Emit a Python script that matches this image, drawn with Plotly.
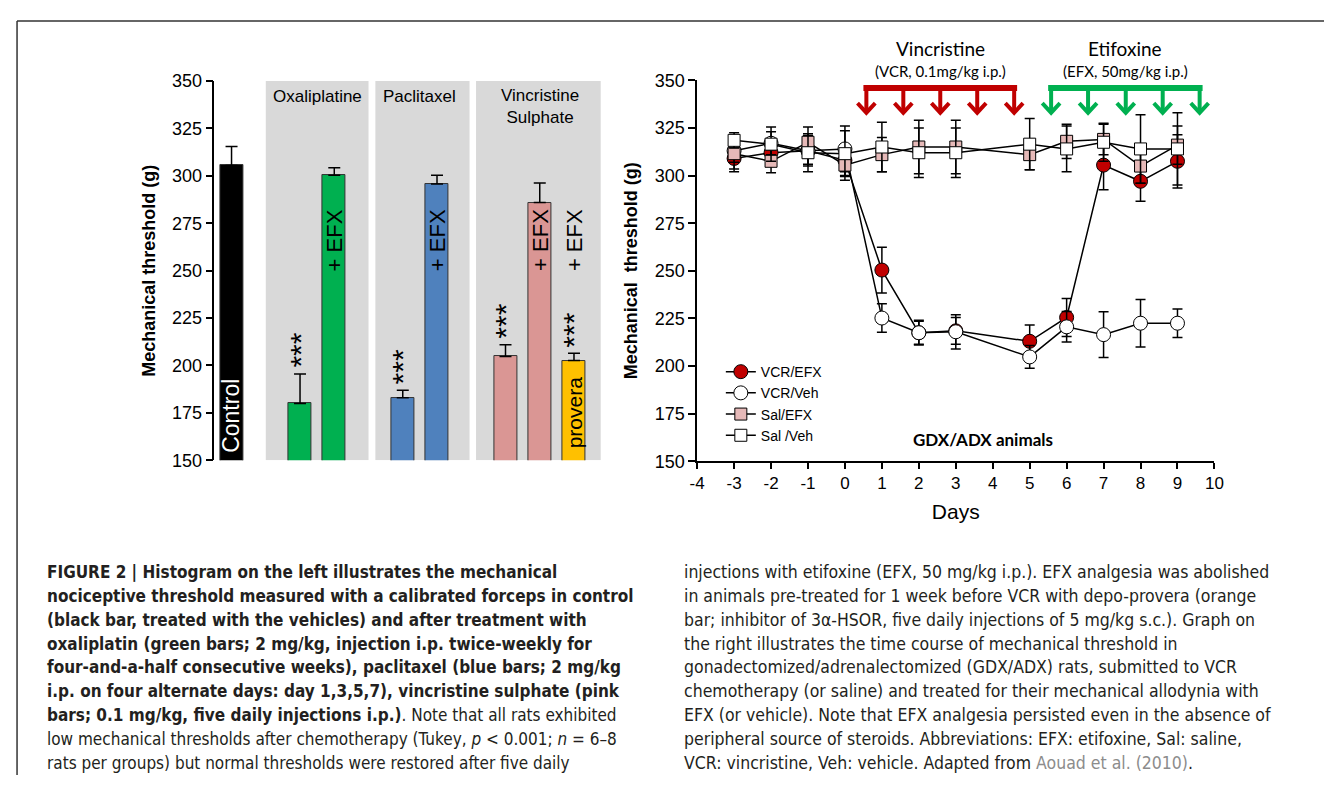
import plotly.graph_objects as go

# page is 1341x793; the page body keeps an 8px margin, so the figure is 1325x777
OFF = 8
W, H = 1341 - 2 * OFF, 793 - 2 * OFF

def px(x):
    return (x - OFF) / W

def py(y):
    return 1 - (y - OFF) / H

# ---------------- Left histogram data ----------------
bar_labels = ["Control", "Oxaliplatine", "Oxaliplatine + EFX", "Paclitaxel", "Paclitaxel + EFX",
              "Vincristine", "Vincristine + EFX", "Vincristine + provera + EFX"]
bar_pos = [0.5, 2.5, 3.5, 5.5, 6.5, 8.5, 9.5, 10.5]
bar_values = [305.5, 180, 300.3, 183, 295.7, 204.8, 285.9, 202.6]
bar_errors = [10, 15.5, 4, 4, 4.6, 6.2, 10.3, 3.9]
bar_colors = ["#000000", "#00B050", "#00B050", "#4F81BD", "#4F81BD", "#DA9694", "#DA9694", "#FFC000"]
group_names = ["Oxaliplatine", "Paclitaxel", "Vincristine<br>Sulphate"]
group_members = [[1, 2], [3, 4], [5, 6, 7]]

# ---------------- Right time-course data ----------------
days = [-3, -2, -1, 0, 1, 2, 3, 5, 6, 7, 8, 9]
vcr_efx = [309, 312, 313, 308, 250.4, 217.5, 218.5, 213, 225.5, 305.5, 297, 307.5]
vcr_efx_err = [7, 7, 8, 8, 12, 6, 7, 8.5, 10, 13, 10.5, 14]
vcr_veh = [313, 317, 313, 314, 225.2, 217.5, 218, 204.8, 220.6, 216.5, 222.5, 222.5]
vcr_veh_err = [6, 6, 7, 12, 7.5, 6.5, 9, 6, 8, 12, 12.5, 7.5]
sal_efx = [311.5, 307.5, 317.5, 305.5, 311, 315, 315, 311, 318, 319, 305, 316]
sal_efx_err = [8, 6, 8, 8, 9, 14, 14, 8, 9, 8, 9, 10]
sal_veh = [318.5, 316.5, 312, 311.5, 315, 312, 312, 316.5, 314, 317.5, 314, 314]
sal_veh_err = [4, 9, 10, 12, 13, 13, 13, 13.5, 12, 10, 18, 19]

day_ticks = list(range(-4, 11))

vcr_injections = [0.58, 1.58, 2.58, 3.58, 4.58]
efx_injections = [5.58, 6.58, 7.6, 8.6, 9.6]

ARIAL = "Liberation Sans, Arial, sans-serif"
CALIBRI = "Lato, Open Sans, sans-serif"
CAP = "Liberation Sans Narrow, DejaVu Sans Condensed, Liberation Sans, sans-serif"

fig = go.Figure()

# Left bars
fig.add_trace(go.Bar(
    x=bar_pos, y=bar_values, width=0.67,
    marker=dict(color=bar_colors, line=dict(color="#333333", width=1)),
    error_y=dict(type="data", symmetric=False, array=bar_errors, arrayminus=[0] * len(bar_errors),
                 color="#000000", thickness=1.5, width=6),
    xaxis="x", yaxis="y", showlegend=False, hovertext=bar_labels,
))

shapes = []
annotations = []

def note(**kw):
    kw.setdefault("showarrow", False)
    kw.setdefault("xanchor", "center")
    kw.setdefault("yanchor", "middle")
    annotations.append(kw)

# grey panels behind bar groups
pads = [(1.0, 1.0), (0.8, 0.95), (0.86, 0.78)]
for members, (pl, pr) in zip(group_members, pads):
    x0 = bar_pos[members[0]] - pl
    x1 = bar_pos[members[-1]] + pr
    shapes.append(dict(type="rect", xref="x", yref="y", x0=x0, x1=x1, y0=150, y1=350,
                       fillcolor="#D9D9D9", line=dict(width=0), layer="below"))

group_label_y = [89, 89, 99]
for members, name, gy in zip(group_members, group_names, group_label_y):
    cx = (bar_pos[members[0]] + bar_pos[members[-1]]) / 2
    note(x=cx, xref="x", y=py(gy), yref="paper", text=name,
         font=dict(family=ARIAL, size=17, color="#000"))

# texts inside / above bars
note(x=bar_pos[0], xref="x", y=150, yref="y", text="Control", textangle=-90,
     yanchor="bottom", yshift=5, font=dict(family=ARIAL, size=23, color="#FFFFFF"))
for i in [2, 4, 6, 7]:
    note(x=bar_pos[i], xref="x", y=py(236), yref="paper", text="+ EFX", textangle=-90,
         font=dict(family=ARIAL, size=22, color="#000"))
note(x=bar_pos[7], xref="x", y=150, yref="y", text="provera", textangle=-90,
     yanchor="bottom", yshift=10, font=dict(family=ARIAL, size=21, color="#000"))
for i in [1, 3, 5, 7]:
    note(x=bar_pos[i], xref="x", y=bar_values[i] + bar_errors[i], yref="y",
         text="***", textangle=-90, yanchor="bottom", yshift=4,
         font=dict(family=ARIAL, size=30, color="#000"))

# ---------------- Right lines ----------------
def add_series(name, yv, err, symbol, fill, size):
    fig.add_trace(go.Scatter(
        x=days, y=yv, name=name, mode="lines+markers",
        line=dict(color="#000000", width=1.5),
        marker=dict(symbol=symbol, size=size, color=fill, line=dict(color="#000000", width=1)),
        error_y=dict(type="data", array=err, color="#000000", thickness=1.5, width=5),
        xaxis="x2", yaxis="y2", cliponaxis=False,
    ))

add_series("VCR/EFX", vcr_efx, vcr_efx_err, "circle", "#C00000", 14)
add_series("VCR/Veh", vcr_veh, vcr_veh_err, "circle", "#FFFFFF", 14)
add_series("Sal/EFX", sal_efx, sal_efx_err, "square", "#E6B9B8", 12)
add_series("Sal /Veh", sal_veh, sal_veh_err, "square", "#FFFFFF", 12)

# injection arrows
def arrows(positions, color, bar_y=346, tip_y=333, head_w=0.24, head_h=5):
    shapes.append(dict(type="line", xref="x2", yref="y2", x0=positions[0] - 0.08, x1=positions[-1] + 0.08,
                       y0=bar_y, y1=bar_y, line=dict(color=color, width=6)))
    for p in positions:
        shapes.append(dict(type="line", xref="x2", yref="y2", x0=p, x1=p, y0=bar_y, y1=tip_y + 1,
                           line=dict(color=color, width=4)))
        shapes.append(dict(type="path", xref="x2", yref="y2",
                           path=f"M {p - head_w},{tip_y + head_h} L {p},{tip_y} L {p + head_w},{tip_y + head_h}",
                           line=dict(color=color, width=4)))

arrows(vcr_injections, "#C00000")
arrows(efx_injections, "#00B050")

cx_v = (vcr_injections[0] + vcr_injections[-1]) / 2
cx_e = (efx_injections[0] + efx_injections[-1]) / 2
note(x=cx_v, xref="x2", y=py(39), yref="paper", text="Vincristine",
     font=dict(family=CALIBRI, size=19, color="#000"))
note(x=cx_v, xref="x2", y=py(62), yref="paper", text="(VCR, 0.1mg/kg i.p.)",
     font=dict(family=CALIBRI, size=15, color="#000"))
note(x=cx_e, xref="x2", y=py(39), yref="paper", text="Etifoxine",
     font=dict(family=CALIBRI, size=19, color="#000"))
note(x=cx_e, xref="x2", y=py(62), yref="paper", text="(EFX, 50mg/kg i.p.)",
     font=dict(family=CALIBRI, size=15, color="#000"))
note(x=px(988), y=py(441), xref="paper", yref="paper", text="<b>GDX/ADX animals</b>",
     font=dict(family=CALIBRI, size=17, color="#000"))

# ---------------- Caption ----------------
left_lines = [
    "<b>FIGURE 2 | Histogram on the left illustrates the mechanical</b>",
    "<b>nociceptive threshold measured with a calibrated forceps in control</b>",
    "<b>(black bar, treated with the vehicles) and after treatment with</b>",
    "<b>oxaliplatin (green bars; 2 mg/kg, injection i.p. twice-weekly for</b>",
    "<b>four-and-a-half consecutive weeks), paclitaxel (blue bars; 2 mg/kg</b>",
    "<b>i.p. on four alternate days: day 1,3,5,7), vincristine sulphate (pink</b>",
    "<b>bars; 0.1 mg/kg, five daily injections i.p.)</b>. Note that all rats exhibited",
    "low mechanical thresholds after chemotherapy (Tukey, <i>p</i> &lt; 0.001; <i>n</i> = 6–8",
    "rats per groups) but normal thresholds were restored after five daily",
]
right_lines = [
    "injections with etifoxine (EFX, 50 mg/kg i.p.). EFX analgesia was abolished",
    "in animals pre-treated for 1 week before VCR with depo-provera (orange",
    "bar; inhibitor of 3α-HSOR, five daily injections of 5 mg/kg s.c.). Graph on",
    "the right illustrates the time course of mechanical threshold in",
    "gonadectomized/adrenalectomized (GDX/ADX) rats, submitted to VCR",
    "chemotherapy (or saline) and treated for their mechanical allodynia with",
    "EFX (or vehicle). Note that EFX analgesia persisted even in the absence of",
    "peripheral source of steroids. Abbreviations: EFX: etifoxine, Sal: saline,",
    "VCR: vincristine, Veh: vehicle. Adapted from <span style='color:#8c8c8c'>Aouad et al. (2010)</span>.",
]
for i, t in enumerate(left_lines):
    note(x=px(37), y=py(577 + 24.4 * i), xref="paper", yref="paper", text=t, xanchor="left",
         font=dict(family=CAP, size=17, color="#231F20"))
for i, t in enumerate(right_lines):
    note(x=px(683), y=py(577 + 24.4 * i), xref="paper", yref="paper", text=t, xanchor="left",
         font=dict(family=CAP, size=17.5, color="#231F20"))

# frame (top and left edges)
shapes.append(dict(type="line", xref="paper", yref="paper", x0=0.0008, x1=1, y0=py(11), y1=py(11),
                   line=dict(color="#333333", width=1.5)))
shapes.append(dict(type="line", xref="paper", yref="paper", x0=0.0008, x1=0.0008, y0=py(11), y1=0,
                   line=dict(color="#333333", width=1.5)))

axis_font = dict(family=ARIAL, size=18, color="#000")
fig.update_layout(
    width=W, height=H, margin=dict(l=0, r=0, t=0, b=0),
    plot_bgcolor="white", paper_bgcolor="white",
    shapes=shapes, annotations=annotations, bargap=0,
    xaxis=dict(domain=[px(209), px(601)], range=[0, 11.3], visible=False, fixedrange=True),
    yaxis=dict(domain=[py(462), py(72.7)], range=[150, 350], dtick=25, showline=True,
               linecolor="#000", linewidth=1.5, ticks="outside", ticklen=7, tickwidth=1.5,
               tickcolor="#000", tickfont=axis_font, showgrid=False, zeroline=False,
               title=dict(text="<b>Mechanical threshold (g)</b>", font=dict(family=ARIAL, size=18, color="#000"),
                          standoff=12)),
    xaxis2=dict(domain=[px(698), px(1222)], range=[-4, 10], anchor="y2", showline=True,
                tickvals=day_ticks, ticktext=[str(d) for d in day_ticks],
                linecolor="#000", linewidth=1.5, ticks="outside", ticklen=6, tickwidth=1.5,
                tickcolor="#000", tickfont=dict(family=ARIAL, size=17, color="#000"), showgrid=False,
                zeroline=False,
                title=dict(text="Days", font=dict(family=ARIAL, size=21, color="#000"), standoff=12)),
    yaxis2=dict(domain=[py(463), py(72)], range=[150, 350], dtick=25, anchor="x2", showline=True,
                linecolor="#000", linewidth=1.5, ticks="outside", ticklen=7, tickwidth=1.5,
                tickcolor="#000", tickfont=axis_font, showgrid=False, zeroline=False,
                title=dict(text="<b>Mechanical  threshold (g)</b>", font=dict(family=ARIAL, size=18, color="#000"),
                           standoff=12)),
    legend=dict(x=px(722), y=py(355), xanchor="left", yanchor="top", bgcolor="rgba(0,0,0,0)",
                font=dict(family=ARIAL, size=14, color="#000"), itemwidth=30, tracegroupgap=0),
)

fig.write_html("out.html", config={"displayModeBar": False})
